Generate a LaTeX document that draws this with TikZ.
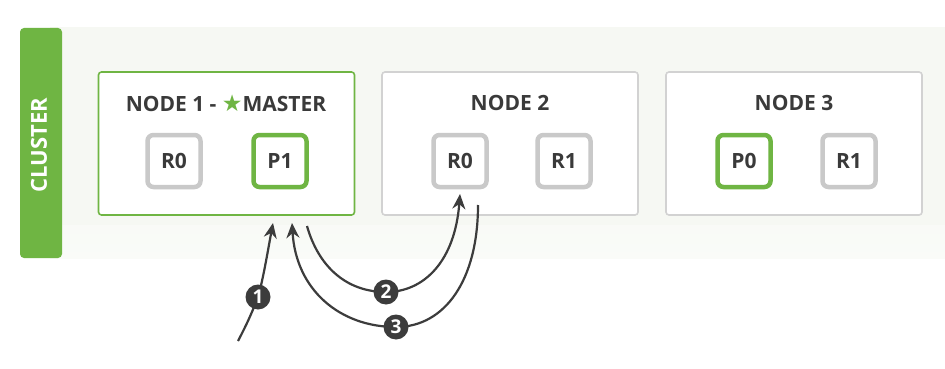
\documentclass[tikz,border=0pt]{standalone}
\usepackage{fontspec}
\setmainfont{Open Sans}
\newfontfamily\symfont{DejaVu Sans}
\usetikzlibrary{arrows.meta}
\definecolor{esgreen}{HTML}{6FB543}
\definecolor{shardgray}{HTML}{C9C9C9}
\definecolor{boxgray}{HTML}{D2D2D2}
\definecolor{bandbg}{HTML}{F6F8F3}
\definecolor{txt}{HTML}{3A3A3A}
\definecolor{arrowc}{HTML}{3C3C3C}
\tikzset{
  nodebox/.style={draw=boxgray, line width=1.6pt, fill=white, rounded corners=3pt, minimum width=256pt, minimum height=143pt, inner sep=0pt},
  masterbox/.style={nodebox, draw=esgreen},
  title/.style={font=\bfseries\fontsize{21}{24}\selectfont, text=txt, inner sep=0pt},
  replica/.style={draw=shardgray, line width=4.5pt, fill=white, rounded corners=6pt, minimum width=53pt, minimum height=52pt, font=\bfseries\fontsize{21}{24}\selectfont, text=txt, inner sep=0pt},
  primary/.style={replica, draw=esgreen},
  badge/.style={circle, fill=arrowc, text=white, minimum size=25pt, inner sep=0pt, font=\bfseries\fontsize{19}{21}\selectfont},
  flow/.style={draw=arrowc, line width=2.2pt},
  tip/.style={-{Stealth[length=15pt, width=13pt]}}
}
\begin{document}
\begin{tikzpicture}[x=1pt, y=-1pt]
\useasboundingbox (0,0) rectangle (945,369);
\fill[white] (0,0) rectangle (945,369);
% band
\shade[top color=bandbg, bottom color=bandbg!60!white] (50,28) rectangle (945,258);
\fill[bandbg] (50,28) rectangle (945,225);
% cluster bar
\fill[esgreen, rounded corners=4pt] (20,28) rectangle (62,258);
\fill[esgreen] (50,28) rectangle (58,258);
\node[rotate=90, text=white, font=\bfseries\fontsize{22}{24}\selectfont] (cl) at (39,145) {CLUSTER};

% node boxes
\node[masterbox] (n1) at (226.5,143.5) {};
\node[nodebox] (n2) at (510,143.5) {};
\node[nodebox] (n3) at (794,143.5) {};

\node[title] (t1) at (226,103) {NODE 1 - {\color{esgreen}\symfont\fontsize{23}{24}\selectfont★}MASTER};
\node[title] (t2) at (510,103) {NODE 2};
\node[title] (t3) at (794,103) {NODE 3};

% shards
\node[replica] (n1r0) at (174,161) {R0};
\node[primary] (n1p1) at (280,161) {P1};
\node[replica] (n2r0) at (460,161) {R0};
\node[replica] (n2r1) at (564,161) {R1};
\node[primary] (n3p0) at (744,161) {P0};
\node[replica] (n3r1) at (849,161) {R1};

% connectors
\coordinate (s1) at (238,341);
\coordinate (e1) at (273,223);
\coordinate (s2) at (307,226);
\coordinate (e2) at (460,194);
\coordinate (s3) at (478,205);
\coordinate (e3) at (292,223);
\coordinate (b1pos) at (258,297);
\coordinate (b2pos) at (386,292);
\coordinate (b3pos) at (396,327);

\draw[flow, tip] (s1) .. controls (248,322) and (253,310) .. (b1pos) .. controls (263,280) and (268,250) .. (e1);
\draw[flow, tip] (s2) .. controls (318,265) and (345,292) .. (b2pos) .. controls (425,292) and (455,260) .. (e2);
\draw[flow, tip] (s3) .. controls (478,280) and (445,327) .. (b3pos) .. controls (340,327) and (296,290) .. (e3);

\node[badge] (b1) at (b1pos) {1};
\node[badge] (b2) at (b2pos) {2};
\node[badge] (b3) at (b3pos) {3};
\end{tikzpicture}
\end{document}
